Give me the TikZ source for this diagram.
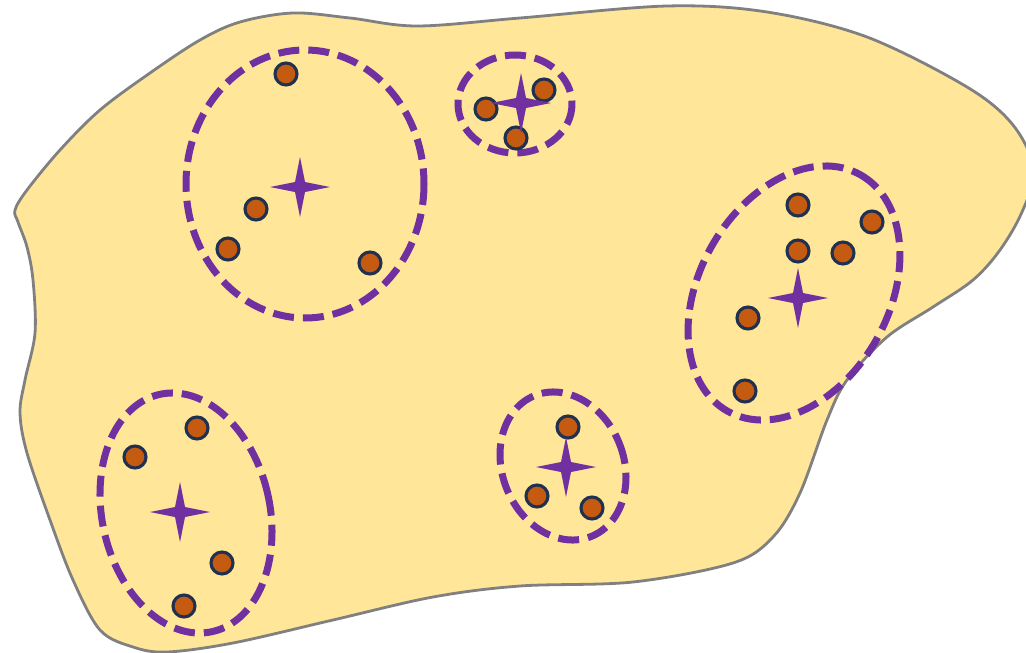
\documentclass[tikz,border=0pt]{standalone}
\definecolor{blobfill}{HTML}{FFE699}
\definecolor{blobline}{HTML}{808080}
\definecolor{purp}{HTML}{7030A0}
\definecolor{dotfill}{HTML}{C55A11}
\definecolor{dotline}{HTML}{1F3050}
\tikzset{
  blob/.style={fill=blobfill, draw=blobline, line width=2.8pt},
  cluster/.style={draw=purp, line width=7pt, dash pattern=on 21pt off 9pt},
  dot/.style={circle, fill=dotfill, draw=dotline, line width=3.1pt, minimum size=22pt, inner sep=0pt},
  fstar/.pic={\fill[purp] (0,-30) -- (5,-5) -- (30,0) -- (5,5) -- (0,30) -- (-5,5) -- (-30,0) -- (-5,-5) -- cycle;}
}
\begin{document}
\begin{tikzpicture}[x=1pt,y=-1pt]
\useasboundingbox (0,0) rectangle (1026,653);
\clip (0,0) rectangle (1026,653);
% background blob
\draw[blob] plot[smooth cycle, tension=0.55] coordinates {
 (15,210) (27,190) (60,150) (100,110) (150,73) (200,40) (240,22) (293,13)
 (350,18) (417,26) (520,18) (667,6) (767,12) (867,37) (967,87) (1013,125)
 (1034,170) (1022,212) (1000,250) (973,280) (933,307) (887,337) (847,380)
 (827,420) (800,493) (773,537) (733,563) (633,582) (520,586) (433,597)
 (333,620) (233,643) (167,652) (133,647) (100,630) (73,580) (50,520)
 (27,453) (20,413) (25,380) (35,333) (33,280) (27,247) (18,222)};
% cluster outlines
\draw[cluster] (305,184) ellipse [x radius=119, y radius=134];
\draw[cluster] (515,104) ellipse [x radius=57, y radius=49];
\draw[cluster, rotate around={60.7:(794,293)}] (794,293) ellipse [x radius=135.6, y radius=94.7];
\draw[cluster, rotate around={12.4:(186,513)}] (186,513) ellipse [x radius=83.9, y radius=121.5];
\draw[cluster, rotate around={21.7:(563,466)}] (563,466) ellipse [x radius=60.7, y radius=75.9];
% points
\node[dot] (a1) at (286,74) {};
\node[dot] (a2) at (256,209) {};
\node[dot] (a3) at (228,249) {};
\node[dot] (a4) at (370,263) {};
\node[dot] (b1) at (486,109) {};
\node[dot] (b2) at (544,90) {};
\node[dot] (b3) at (516,138) {};
\node[dot] (c1) at (798,205) {};
\node[dot] (c2) at (872,222) {};
\node[dot] (c3) at (798,251) {};
\node[dot] (c4) at (843,253) {};
\node[dot] (c5) at (748,318) {};
\node[dot] (c6) at (745,391) {};
\node[dot] (e1) at (197,428) {};
\node[dot] (e2) at (135,457) {};
\node[dot] (e3) at (222,563) {};
\node[dot] (e4) at (184,606) {};
\node[dot] (f1) at (568,427) {};
\node[dot] (f2) at (537,496) {};
\node[dot] (f3) at (592,508) {};
% centroids
\pic at (300,187) {fstar};
\pic at (521,103) {fstar};
\pic at (798,298) {fstar};
\pic at (180,512) {fstar};
\pic at (566,467) {fstar};
\end{tikzpicture}
\end{document}
